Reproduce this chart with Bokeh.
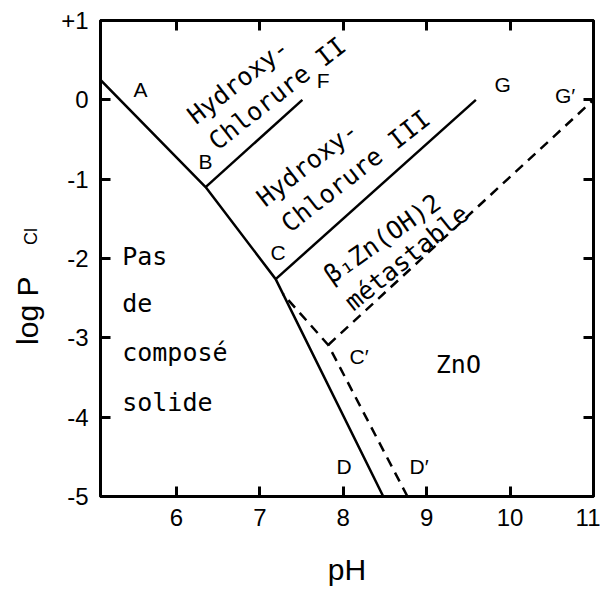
import math
from bokeh.plotting import figure
from bokeh.layouts import row
from bokeh.models import Label, LinearAxis, FixedTicker, Range1d
from bokeh.core.properties import value
from bokeh.embed import file_html
from bokeh.resources import INLINE

# ---- data ----
# solid boundary A-B-C-D
ph_abcd = [5.09, 6.35, 7.19, 8.48]
lp_abcd = [0.25, -1.10, -2.26, -5.0]
# solid boundary B-F
ph_bf = [6.35, 7.51]
lp_bf = [-1.10, 0.0]
# solid boundary C-G
ph_cg = [7.19, 9.59]
lp_cg = [-2.26, 0.0]
# dashed (metastable) boundary  D'-C'-(near C)
ph_dc = [8.77, 7.82, 7.28]
lp_dc = [-5.0, -3.09, -2.45]
# dashed boundary C'-G'
ph_cg2 = [7.82, 11.0]
lp_cg2 = [-3.09, 0.0]

x_ticks = [6, 7, 8, 9, 10, 11]
y_ticks = [-5, -4, -3, -2, -1, 0, 1]
y_tick_labels = ["-5", "-4", "-3", "-2", "-1", "0", "+1"]

MONO = "DejaVu Sans Mono"
SANS = "Liberation Sans"

H = 590
LW = 50   # width of the strip holding the y-axis title
TOP, BOT = 20, 94

yr = Range1d(-5, 1)
p = figure(width=550, height=H, x_range=(5.09, 11), y_range=yr,
           output_backend="svg", toolbar_location=None,
           min_border_left=100 - LW, min_border_right=7, min_border_top=TOP,
           min_border_bottom=BOT, x_axis_location=None, y_axis_location=None)
p.grid.visible = False
p.outline_line_color = "black"
p.outline_line_width = 3
p.background_fill_color = "white"
p.border_fill_color = "white"

def style_axis(ax, ticks, labels=True, overrides=None):
    ax.ticker = FixedTicker(ticks=ticks)
    ax.minor_tick_line_color = None
    ax.major_tick_in = 10
    ax.major_tick_out = 0
    ax.major_tick_line_width = 3
    ax.axis_line_width = 3
    ax.axis_line_color = "black"
    if labels:
        ax.major_label_text_font = SANS
        ax.major_label_text_font_size = "24px"
        ax.major_label_text_color = "black"
        ax.major_label_standoff = 12
        if overrides:
            ax.major_label_overrides = overrides
    else:
        ax.major_label_text_font_size = "0px"
        ax.major_label_standoff = 0

bottom = LinearAxis(axis_label="pH")
style_axis(bottom, x_ticks)
bottom.axis_label_text_font = SANS
bottom.axis_label_text_font_size = "30px"
bottom.axis_label_text_font_style = "normal"
bottom.axis_label_text_color = "black"
bottom.axis_label_standoff = 24
p.add_layout(bottom, "below")

left = LinearAxis()
style_axis(left, y_ticks, overrides={t: s for t, s in zip(y_ticks, y_tick_labels)})
p.add_layout(left, "left")

top = LinearAxis()
style_axis(top, x_ticks[:-1], labels=False)
p.add_layout(top, "above")

right = LinearAxis()
style_axis(right, y_ticks[1:-1], labels=False)
p.add_layout(right, "right")

# ---- boundaries ----
p.line(ph_abcd, lp_abcd, line_color="black", line_width=2.5)
p.line(ph_bf, lp_bf, line_color="black", line_width=2.5)
p.line(ph_cg, lp_cg, line_color="black", line_width=2.5)
p.line(ph_dc, lp_dc, line_color="black", line_width=2.5, line_dash="10 7")
p.line(ph_cg2, lp_cg2, line_color="black", line_width=2.5, line_dash="10 7")

def lab(x, y, t, font=SANS, size="21px", angle=0, align="center", baseline="middle"):
    p.add_layout(Label(x=x, y=y, text=t, text_font=font, text_font_size=size,
                       angle=angle, angle_units="deg", text_align=align,
                       text_baseline=baseline, text_color="black"))

# point letters
lab(5.57, 0.13, "A")
lab(6.35, -0.78, "B")
lab(7.22, -1.93, "C")
lab(7.76, 0.24, "F")
lab(9.91, 0.19, "G")
lab(10.66, 0.06, "G\u2032")
lab(8.19, -3.24, "C\u2032")
lab(8.01, -4.62, "D")
lab(8.91, -4.62, "D\u2032")

# region texts
lab(9.38, -3.34, "ZnO", font=MONO, size="25px")
lab(5.35, -1.98, "Pas", font=MONO, size="25px", align="left")
lab(5.35, -2.57, "de", font=MONO, size="25px", align="left")
lab(5.35, -3.18, "composé", font=MONO, size="25px", align="left")
lab(5.35, -3.81, "solide", font=MONO, size="25px", align="left")

lab(6.74, 0.23, "Hydroxy-", font=MONO, size="25px", angle=38)
lab(7.21, 0.08, "Chlorure II", font=MONO, size="25px", angle=38)
lab(7.57, -0.81, "Hydroxy-", font=MONO, size="25px", angle=38)
lab(8.15, -0.90, "Chlorure III", font=MONO, size="25px", angle=38)
lab(8.47, -1.75, "\u03b2\u2081Zn(OH)2", font=MONO, size="25px", angle=35)
lab(8.76, -1.99, "métastable", font=MONO, size="25px", angle=39)

# ---- strip on the left carrying the y-axis title "log P_Cl" ----
ylab = figure(width=LW, height=H, x_range=(0, LW), y_range=yr,
              output_backend="svg", toolbar_location=None,
              min_border_left=0, min_border_right=0, min_border_top=TOP,
              min_border_bottom=BOT, x_axis_location=None, y_axis_location=None)
ylab.title.visible = False
ylab.grid.visible = False
ylab.outline_line_color = None
ylab.background_fill_color = "white"
ylab.border_fill_color = "white"
ylab.text(x=[27], y=[-3.09], text=["log P"], angle=math.pi / 2,
          text_font=value(SANS), text_font_size="30px", text_color="black",
          text_align="left", text_baseline="alphabetic")
ylab.text(x=[30], y=[-1.83], text=["Cl"], angle=math.pi / 2,
          text_font=value(SANS), text_font_size="18px", text_color="black",
          text_align="left", text_baseline="alphabetic")

layout = row(ylab, p, spacing=0)
open("out.html", "w").write(file_html(layout, INLINE))
